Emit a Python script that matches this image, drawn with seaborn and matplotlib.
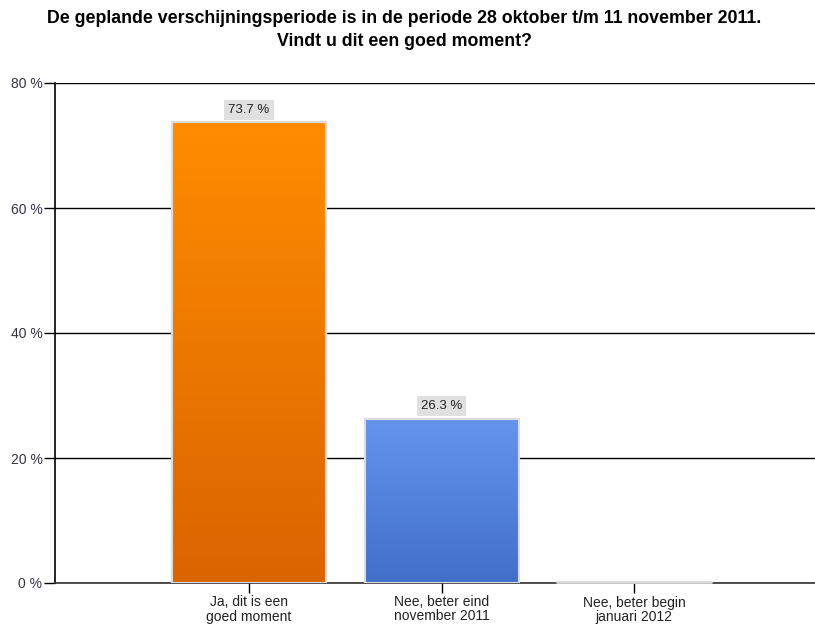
import numpy as np
import pandas as pd
import matplotlib
matplotlib.use("Agg")
import matplotlib.pyplot as plt
import seaborn as sns
from matplotlib.colors import LinearSegmentedColormap

categories = ["Ja, dit is een\ngoed moment", "Nee, beter eind\nnovember 2011", "Nee, beter begin\njanuari 2012"]
values = [73.7, 26.3, 0.0]
value_labels = ["73.7 %", "26.3 %", ""]
yticks = [0, 20, 40, 60, 80]
ytick_labels = ["0 %", "20 %", "40 %", "60 %", "80 %"]
title = "De geplande verschijningsperiode is in de periode 28 oktober t/m 11 november 2011.\nVindt u dit een goed moment?"

top_colors = ["#FF8C00", "#6495ED", "#D0D0D0"]
bottom_colors = ["#DA6400", "#416FC9", "#D0D0D0"]

sns.set_style("white")
plt.rcParams['font.family'] = ['Liberation Sans', 'DejaVu Sans']

fig = plt.figure(figsize=(8.15, 6.26), dpi=100)
ax = fig.add_axes([55/815, 1 - 583/626, 760/815, 500/626])

df = pd.DataFrame({"cat": categories, "val": values})
sns.barplot(data=df, x="cat", y="val", ax=ax, width=0.8,
            palette=top_colors, hue="cat", legend=False,
            edgecolor="#DCDCDC", linewidth=1.5, zorder=3)

ax.set_ylim(0, 80)
ax.set_xlim(-1.008, 2.94)

# gradients
for i, p in enumerate(ax.patches):
    x0, y0 = p.get_x(), p.get_y()
    w, h = p.get_width(), p.get_height()
    if h <= 0:
        continue
    cmap = LinearSegmentedColormap.from_list("g", [bottom_colors[i], top_colors[i]])
    grad = np.linspace(0, 1, 256).reshape(-1, 1)
    im = ax.imshow(grad, extent=[x0, x0 + w, y0, y0 + h], origin="lower",
                   aspect="auto", cmap=cmap, zorder=3.5)
    im.set_clip_path(p)
    ax.plot([x0, x0 + w, x0 + w, x0, x0], [y0, y0, y0 + h, y0 + h, y0],
            color="#DCDCDC", lw=1.5, zorder=4, solid_joinstyle="miter")

# zero-value bar line
p = ax.patches[2]
ax.plot([p.get_x(), p.get_x() + p.get_width()], [0.15, 0.15], color="#D8D8D8", lw=2, zorder=4, clip_on=False)

ax.set_xlim(-1.008, 2.94)
ax.set_ylim(0, 80)

# labels
for i, (v, lab) in enumerate(zip(values, value_labels)):
    if lab:
        ax.text(i, v + 2.0, lab, ha="center", va="center", fontsize=9.5, color="#222222",
                bbox=dict(boxstyle="square,pad=0.3", fc="#E0E0E0", ec="none"), zorder=5)

ax.set_yticks(yticks)
ax.set_yticklabels(ytick_labels)
ax.yaxis.grid(True, color="black", lw=1)
ax.set_axisbelow(True)
for s in ["top", "right"]:
    ax.spines[s].set_visible(False)
ax.spines["left"].set_color("black")
ax.spines["bottom"].set_color("#333333")
ax.spines["left"].set_linewidth(1.2)
ax.spines["bottom"].set_linewidth(1.2)
ax.tick_params(axis="y", direction="out", length=8, width=1, color="black",
               labelsize=10, labelcolor="#333344", pad=1, left=True)
ax.tick_params(axis="x", direction="out", length=7, width=1, color="black",
               labelsize=10, labelcolor="#222222", pad=2, bottom=True)
for lab in ax.get_xticklabels():
    lab.set_linespacing(1.0)
ax.set_xlabel("")
ax.set_ylabel("")

fig.text(404/815, 1 - 30/626, title, ha="center", va="center", fontsize=12.8,
         fontweight="bold", color="black", linespacing=1.45)

fig.savefig("out.png", dpi=100)
